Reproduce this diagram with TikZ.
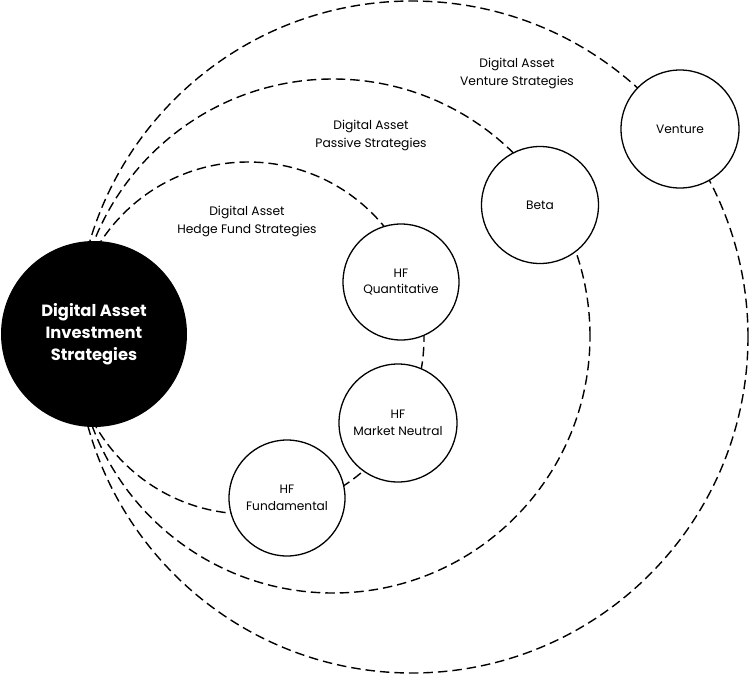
\documentclass[tikz,border=0pt]{standalone}
\usepackage{fontspec}
\newfontfamily\pop{Poppins}
\begin{document}
\begin{tikzpicture}[x=1pt,y=-1pt,
  orbit/.style={draw=black,line width=1.4pt,dash pattern=on 9.5pt off 5pt},
  sat/.style={circle,draw=black,fill=white,line width=1.3pt,inner sep=0pt,align=center,
    font={\pop\fontsize{12.2}{16.5}\selectfont}},
  lbl/.style={align=center,font={\pop\fontsize{12.3}{18}\selectfont}},
  hub/.style={circle,fill=black,text=white,inner sep=0pt,align=center,minimum size=186pt,
    font={\pop\bfseries\fontsize{16.3}{22}\selectfont}}]
\useasboundingbox (0,0) rectangle (750,673);
% orbits
\coordinate (co) at (412,337);
\coordinate (cm) at (333,336);
\coordinate (ci) at (248,338);
\draw[orbit] (co) circle[radius=336pt];
\draw[orbit] (cm) circle[radius=257pt];
\draw[orbit] (ci) circle[radius=176pt];
% hub
\node[hub] (hub) at (94,334) {Digital Asset\\Investment\\Strategies};
% satellites
\node[sat,minimum size=118pt] (venture) at (680,129) {Venture};
\node[sat,minimum size=117pt] (beta) at (540,205) {Beta};
\node[sat,minimum size=116pt] (quant) at (401,282) {HF\\Quantitative};
\node[sat,minimum size=118pt] (mn) at (398,423) {HF\\Market Neutral};
\node[sat,minimum size=116pt] (fund) at (287,498) {HF\\Fundamental};
% labels
\node[lbl] (lv) at (517,73) {Digital Asset\\Venture Strategies};
\node[lbl] (lp) at (371,135) {Digital Asset\\Passive Strategies};
\node[lbl] (lh) at (247,221) {Digital Asset\\Hedge Fund Strategies};
\end{tikzpicture}
\end{document}
